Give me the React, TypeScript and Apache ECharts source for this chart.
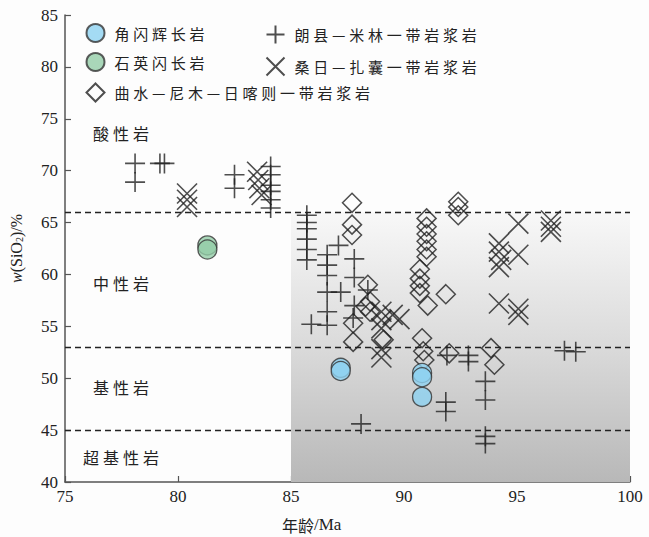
import React, { useEffect, useRef } from "react";
import * as echarts from "echarts";

const xTicks = [75, 80, 85, 90, 95, 100];
const yTicks = [40, 45, 50, 55, 60, 65, 70, 75, 80, 85];
const boundaryLines = [66, 53, 45];
const shadedRange = { x0: 85, x1: 100, y0: 66, y1: 40 };

const nameGabbro = "角闪辉长岩";
const nameDiorite = "石英闪长岩";
const nameLangxian = "朗县—米林一带岩浆岩";
const nameSangri = "桑日—扎囊一带岩浆岩";
const nameQushui = "曲水—尼木—日喀则一带岩浆岩";

const rockLabels = ["酸性岩", "中性岩", "基性岩", "超基性岩"];
const rockLabelY = [73.6, 59.2, 49.2, 42.4];

const gabbro: number[][] = [
  [87.2, 51.0], [87.2, 50.7], [90.8, 50.5], [90.8, 50.1], [90.8, 48.2],
];
const diorite: number[][] = [
  [81.3, 62.8], [81.3, 62.4],
];
const langxian: number[][] = [
  [78.1, 70.7], [78.1, 68.9], [79.2, 70.7], [79.4, 70.7],
  [82.5, 69.6], [82.5, 68.3],
  [84.1, 70.4], [84.1, 69.6], [84.1, 68.6], [84.1, 68.0], [84.1, 67.2], [84.1, 66.4],
  [85.7, 65.7], [85.7, 65.0], [85.7, 64.4], [85.7, 63.4], [85.7, 62.4], [85.7, 61.4],
  [85.9, 55.2],
  [86.6, 61.9], [86.6, 60.9], [86.6, 59.9], [86.6, 58.3], [86.6, 56.4], [86.6, 55.1],
  [87.1, 62.8], [87.2, 58.3],
  [87.8, 61.5], [87.8, 59.7], [87.8, 57.0], [87.75, 55.8],
  [88.4, 58.5],
  [88.1, 45.6],
  [91.85, 47.7], [91.85, 46.8],
  [91.9, 52.2], [92.85, 52.2], [92.85, 51.6],
  [93.6, 49.7], [93.6, 47.9], [93.6, 44.4], [93.6, 43.7],
  [97.1, 52.65], [97.6, 52.55],
];
const sangri: number[][] = [
  [80.4, 67.8], [80.4, 67.2], [80.4, 66.5],
  [83.5, 69.9], [83.55, 69.1], [83.6, 68.3], [83.7, 67.65],
  [89.0, 56.4], [89.5, 56.1], [89.0, 55.6], [89.8, 55.7], [89.0, 54.8], [89.0, 52.8], [89.0, 52.0],
  [94.2, 63.0], [94.2, 62.2], [94.3, 61.4], [94.2, 60.7],
  [95.06, 64.9], [95.06, 61.9],
  [96.5, 65.2], [96.5, 64.6], [96.5, 64.1],
  [94.2, 57.2], [95.06, 56.7], [95.06, 56.1],
];
const qushui: number[][] = [
  [87.7, 66.9], [87.7, 64.8], [87.7, 63.8],
  [88.4, 59.0], [88.5, 57.4], [88.3, 56.9], [88.5, 56.4],
  [87.75, 55.3], [87.75, 53.5],
  [89.1, 53.7],
  [91.0, 65.4], [91.0, 64.6], [91.0, 63.9], [91.0, 63.2], [91.0, 62.4], [91.0, 61.7],
  [90.7, 60.5], [90.7, 59.6], [90.7, 58.9], [90.7, 58.2], [91.05, 57.0],
  [91.85, 58.1],
  [92.4, 67.0], [92.4, 66.5], [92.4, 65.7],
  [90.8, 53.85], [90.85, 52.6], [90.9, 51.75],
  [92.0, 52.4],
  [93.85, 52.9], [94.0, 51.3],
];

const SERIF = "Liberation Serif";
const CJK = "Noto Sans CJK SC";
const PLUS = "path://M10,0L10,20M0,10L20,10";
const CROSS = "path://M0,0L20,20M20,0L0,20";
const spaced = (s: string) => Array.from(s).join("\u2005");

export default function App() {
  const ref = useRef<HTMLDivElement>(null);
  useEffect(() => {
    document.body.style.margin = "0";
    if (!ref.current) return;
    const chart = echarts.init(ref.current, undefined, { renderer: "svg" });
    const lineItem = { color: "none", borderColor: "#222", borderWidth: 1.6 };
    const legendText = { fontSize: 15, fontFamily: CJK, color: "#222", padding: [0, 0, 0, 5] };
    const option: any = {
      animation: false,
      backgroundColor: "#fdfdfd",
      grid: { left: 65, right: 19, top: 15, bottom: 55 },
      legend: [
        {
          left: 84, top: 23, padding: 0, orient: "vertical", itemGap: 9, itemWidth: 18, itemHeight: 18,
          data: [nameGabbro, nameDiorite, nameQushui], textStyle: legendText, formatter: spaced,
        },
        {
          left: 264, top: 23, padding: 0, orient: "vertical", itemGap: 9, itemWidth: 18, itemHeight: 18,
          data: [nameLangxian, nameSangri], textStyle: legendText, formatter: spaced,
        },
      ],
      xAxis: {
        type: "value", min: xTicks[0], max: xTicks[xTicks.length - 1], interval: 5,
        axisLine: { lineStyle: { color: "#555", width: 1.5 } },
        axisTick: { inside: true, length: 6, lineStyle: { color: "#555", width: 1.2 } },
        axisLabel: { fontFamily: SERIF, fontSize: 17, color: "#222", margin: 6 },
        splitLine: { show: false },
      },
      yAxis: {
        type: "value", min: yTicks[0], max: yTicks[yTicks.length - 1], interval: 5,
        axisLine: { show: true, lineStyle: { color: "#555", width: 1.5 } },
        axisTick: { show: true, inside: true, length: 6, lineStyle: { color: "#555", width: 1.2 } },
        axisLabel: { fontFamily: SERIF, fontSize: 17, color: "#222", margin: 7 },
        splitLine: { show: false },
        name: "{i|w}(SiO{s|2})/%",
        nameLocation: "middle",
        nameGap: 41,
        nameTextStyle: {
          fontFamily: SERIF, fontSize: 16, color: "#222",
          rich: {
            i: { fontFamily: SERIF, fontSize: 16, fontStyle: "italic", color: "#222" },
            s: { fontFamily: SERIF, fontSize: 10, color: "#222", verticalAlign: "bottom", lineHeight: 10 },
          },
        },
      },
      series: [
        {
          type: "scatter", name: "bg", data: [], silent: true,
          markArea: {
            silent: true,
            itemStyle: {
              color: new echarts.graphic.LinearGradient(0, 0, 0, 1, [
                { offset: 0, color: "#f8f8f8" },
                { offset: 0.5, color: "#dadada" },
                { offset: 1, color: "#b8b8b8" },
              ]),
            },
            data: [[{ coord: [shadedRange.x0, shadedRange.y0] }, { coord: [shadedRange.x1, shadedRange.y1] }]],
          },
          markLine: {
            silent: true, symbol: "none",
            label: { show: false },
            lineStyle: { color: "#222", width: 1.3, type: [6, 4] },
            data: boundaryLines.map((v) => ({ yAxis: v })),
          },
        },
        {
          type: "scatter", name: nameLangxian, data: langxian, symbol: PLUS, symbolSize: 20,
          itemStyle: lineItem,
        },
        {
          type: "scatter", name: nameSangri, data: sangri, symbol: CROSS, symbolSize: 20,
          itemStyle: lineItem,
        },
        {
          type: "scatter", name: nameQushui, data: qushui, symbol: "diamond", symbolSize: 19,
          itemStyle: { color: "none", borderColor: "#222", borderWidth: 1.5 },
        },
        {
          type: "scatter", name: nameDiorite, data: diorite, symbol: "circle", symbolSize: 19,
          itemStyle: { color: "#93cda7", borderColor: "#333", borderWidth: 1.3 },
        },
        {
          type: "scatter", name: nameGabbro, data: gabbro, symbol: "circle", symbolSize: 19,
          itemStyle: { color: "#8dd2f1", borderColor: "#333", borderWidth: 1.3 },
        },
      ],
      graphic: [
        {
          type: "text", left: 282, top: 516,
          style: {
            text: "{c|年龄}{r|/Ma}",
            rich: {
              c: { fontFamily: CJK, fontSize: 16, fill: "#222" },
              r: { fontFamily: SERIF, fontSize: 17, fill: "#222" },
            },
          },
        },
      ],
    };
    chart.setOption(option);
    const labels = rockLabels.map((t, i) => {
      const p = chart.convertToPixel({ gridIndex: 0 }, [75, rockLabelY[i]]) as number[];
      return {
        type: "text",
        x: i === 3 ? 83 : 93,
        y: p[1],
        style: { text: spaced(t), fontFamily: CJK, fontSize: 16, fill: "#222", verticalAlign: "middle" },
      };
    });
    chart.setOption({ graphic: [option.graphic[0], ...labels] });
    return () => chart.dispose();
  }, []);
  return <div ref={ref} style={{ width: 649, height: 537 }} />;
}
